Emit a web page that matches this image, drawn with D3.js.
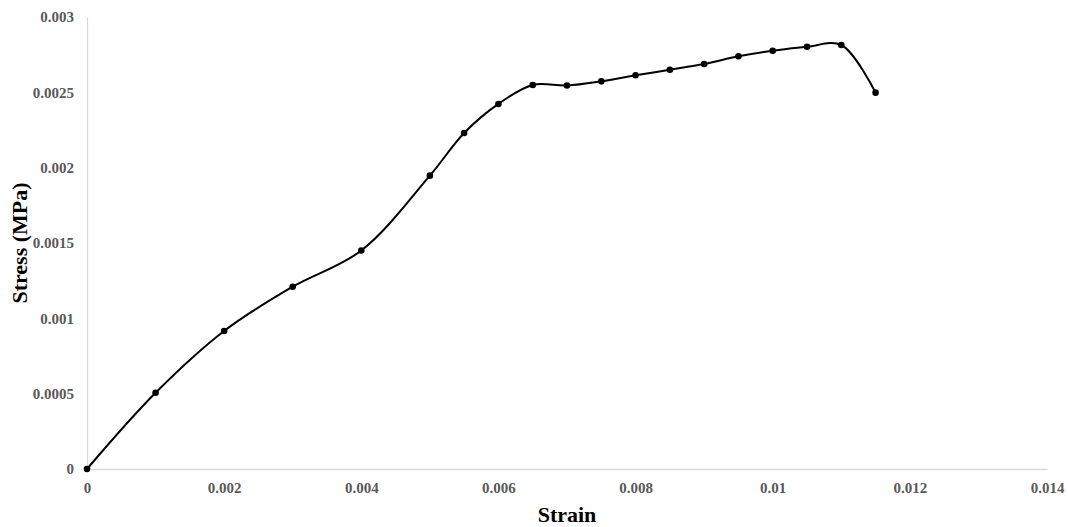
<!DOCTYPE html>
<html>
<head>
<meta charset="utf-8">
<script src="https://cdn.jsdelivr.net/npm/d3@7"></script>
<style>
  body { margin: 0; background: #fff; }
  svg { display: block; }
  text { font-family: "Liberation Serif", "Times New Roman", serif; font-weight: bold; }
</style>
</head>
<body>
<svg id="chart" width="1068" height="527"></svg>
<script>
const strain = [0, 0.001, 0.002, 0.003, 0.004, 0.005, 0.0055, 0.006, 0.0065, 0.007, 0.0075, 0.008, 0.0085, 0.009, 0.0095, 0.01, 0.0105, 0.011, 0.0115];
const stress = [0, 0.000506, 0.000916, 0.00121, 0.00145, 0.001947, 0.00223, 0.002423, 0.002549, 0.002545, 0.002573, 0.002613, 0.00265, 0.002688, 0.002739, 0.002776, 0.002803, 0.002814, 0.002498];
const xTicks = [0, 0.002, 0.004, 0.006, 0.008, 0.01, 0.012, 0.014];
const yTicks = [0, 0.0005, 0.001, 0.0015, 0.002, 0.0025, 0.003];
const xTitle = "Strain";
const yTitle = "Stress (MPa)";

const svg = d3.select("#chart");
const mLeft = 87, mRight = 1047, mTop = 17, mBottom = 469;
const x = d3.scaleLinear().domain([0, 0.014]).range([mLeft, mRight]);
const y = d3.scaleLinear().domain([0, 0.003]).range([mBottom, mTop]);

// axes
const xAxis = d3.axisBottom(x).tickValues(xTicks).tickSize(0).tickPadding(14).tickFormat(d => String(d));
const yAxis = d3.axisLeft(y).tickValues(yTicks).tickSize(0).tickPadding(13).tickFormat(d => String(d));

const gx = svg.append("g").attr("transform", `translate(0,${mBottom})`).call(xAxis);
const gy = svg.append("g").attr("transform", `translate(${mLeft},0)`).call(yAxis);
[gx, gy].forEach(g => {
  g.select(".domain").attr("stroke", "#d9d9d9").attr("stroke-width", 1.3);
  g.selectAll("text").attr("fill", "#595959").style("font-size", "15px")
    .style("font-family", "'Liberation Serif', serif").style("font-weight", "bold");
});
gx.selectAll("text").attr("dy", "0.68em");

// titles
svg.append("text").attr("x", (mLeft + mRight) / 2).attr("y", 522).attr("text-anchor", "middle")
  .style("font-size", "22px").attr("fill", "#000").text(xTitle);
svg.append("text").attr("transform", `translate(27,${(mTop + mBottom) / 2}) rotate(-90)`)
  .attr("text-anchor", "middle").style("font-size", "22px").attr("fill", "#000").text(yTitle);

// line
const data = strain.map((s, i) => [s, stress[i]]);
const line = d3.line().x(d => x(d[0])).y(d => y(d[1])).curve(d3.curveCatmullRom.alpha(0.5));
svg.append("path").datum(data).attr("d", line).attr("fill", "none")
  .attr("stroke", "#000").attr("stroke-width", 2);

svg.append("g").selectAll("circle").data(data).join("circle")
  .attr("cx", d => x(d[0])).attr("cy", d => y(d[1])).attr("r", 3.3).attr("fill", "#000");
</script>
</body>
</html>
